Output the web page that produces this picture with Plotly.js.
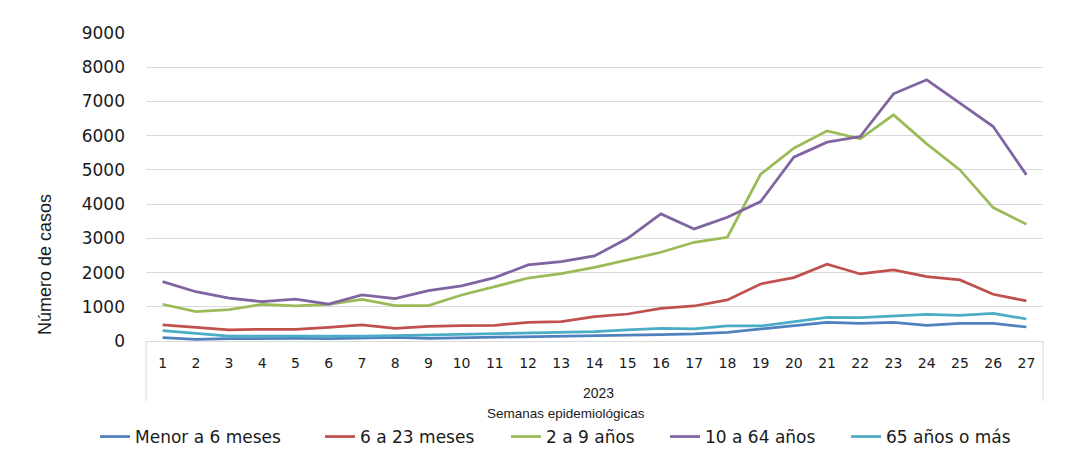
<!DOCTYPE html>
<html>
<head>
<meta charset="utf-8">
<script src="https://cdn.plot.ly/plotly-3.0.1.min.js"></script>
<style>
html,body{margin:0;padding:0;background:#fff;}
#chart{width:1066px;height:453px;}
</style>
</head>
<body>
<div id="chart"></div>
<script>
// Semanas epidemiológicas 2023
const weeks = [1,2,3,4,5,6,7,8,9,10,11,12,13,14,15,16,17,18,19,20,21,22,23,24,25,26,27];
const seriesNames = ["Menor a 6 meses","6 a 23 meses","2 a 9 años","10 a 64 años","65 años o más"];
const menor6m   = [97,49,68,78,78,68,97,107,78,97,108,127,137,166,175,185,205,253,351,448,546,517,546,459,517,517,409];
const m6a23     = [468,390,322,341,341,400,468,370,429,448,459,546,565,711,789,955,1023,1199,1667,1852,2242,1959,2076,1881,1784,1365,1170];
const a2a9      = [1073,857,916,1073,1023,1073,1219,1032,1032,1345,1588,1840,1970,2154,2368,2593,2885,3032,4873,5634,6140,5906,6608,5760,5000,3898,3411];
const a10a64    = [1734,1440,1250,1150,1220,1080,1345,1237,1470,1612,1852,2222,2320,2485,3002,3713,3275,3616,4073,5371,5809,5975,7222,7632,6950,6266,4854];
const a65mas    = [302,224,146,146,146,127,146,156,175,190,215,238,240,272,322,370,351,439,439,565,693,682,731,780,751,809,643];
const yTicks = [0,1000,2000,3000,4000,5000,6000,7000,8000,9000];
const yearLabel = "2023";
const xTitle = "Semanas epidemiológicas";
const yTitle = "Número de casos";

const colors = ["#4F81BD","#C0504D","#9BBB59","#8064A2","#4BACC6"];
const values = [menor6m, m6a23, a2a9, a10a64, a65mas];
const legendIds = ["legend","legend2","legend3","legend4","legend5"];
const legendX = [100,325,511,670,851];

const W = 1066, H = 453;
const M = {l:146, r:23, t:33, b:112};
const PW = W - M.l - M.r, PH = H - M.t - M.b;
const px2x = p => (p - M.l) / PW;
const py2y = p => (H - M.b - p) / PH;

const traces = values.map((v,i) => ({
  type:'scatter', mode:'lines', x: weeks, y: v, name: seriesNames[i],
  line:{color: colors[i], width: 2.75},
  legend: legendIds[i], hoverinfo:'x+y+name'
}));

const txt = '#1a1a1a';
const layout = {
  width: W, height: H,
  margin: Object.assign({autoexpand:false}, M),
  paper_bgcolor:'#fff', plot_bgcolor:'#fff',
  showlegend: true,
  xaxis:{
    range:[0.5, 27.5], tickmode:'array', tickvals: weeks, ticktext: weeks.map(String),
    showgrid:false, zeroline:false, showline:true, linecolor:'#d9d9d9', linewidth:1,
    ticks:'', ticklabelstandoff: 9, automargin:false,
    tickfont:{family:'DejaVu Sans, sans-serif', size:14, color:txt}
  },
  yaxis:{
    range:[0, 9000], tickmode:'array', tickvals: yTicks, ticktext: yTicks.map(String),
    showgrid:true, gridcolor:'#d9d9d9', gridwidth:1, zeroline:false, showline:false,
    ticks:'', ticklabelstandoff: 20, automargin:false,
    tickfont:{family:'DejaVu Sans, sans-serif', size:17, color:txt}
  },
  shapes:[
    {type:'line', xref:'paper', yref:'paper', x0:0, x1:0, y0:0, y1:py2y(401), line:{color:'#d9d9d9', width:1}},
    {type:'line', xref:'paper', yref:'paper', x0:1, x1:1, y0:0, y1:py2y(401), line:{color:'#d9d9d9', width:1}}
  ],
  annotations:[
    {text: yearLabel, xref:'paper', yref:'paper', x: px2x(598), y: py2y(393), showarrow:false,
     xanchor:'center', yanchor:'middle', font:{family:'Liberation Sans, Arial, sans-serif', size:14, color:txt}},
    {text: xTitle, xref:'paper', yref:'paper', x: px2x(566), y: py2y(413), showarrow:false,
     xanchor:'center', yanchor:'middle', font:{family:'Liberation Sans, Arial, sans-serif', size:13.5, color:txt}},
    {text: yTitle, xref:'paper', yref:'paper', x: px2x(45), y: py2y(265), showarrow:false, textangle:-90,
     xanchor:'center', yanchor:'middle', font:{family:'Liberation Sans, Arial, sans-serif', size:18, color:txt}}
  ]
};
legendIds.forEach((id,i) => {
  layout[id] = {
    orientation:'h', xref:'paper', yref:'paper',
    x: px2x(legendX[i] - 5), y: py2y(437), xanchor:'left', yanchor:'middle',
    bgcolor:'rgba(0,0,0,0)', borderwidth:0,
    font:{family:'DejaVu Sans, sans-serif', size:17, color:txt}
  };
});

Plotly.newPlot('chart', traces, layout, {displayModeBar:false, staticPlot:true});
</script>
</body>
</html>
